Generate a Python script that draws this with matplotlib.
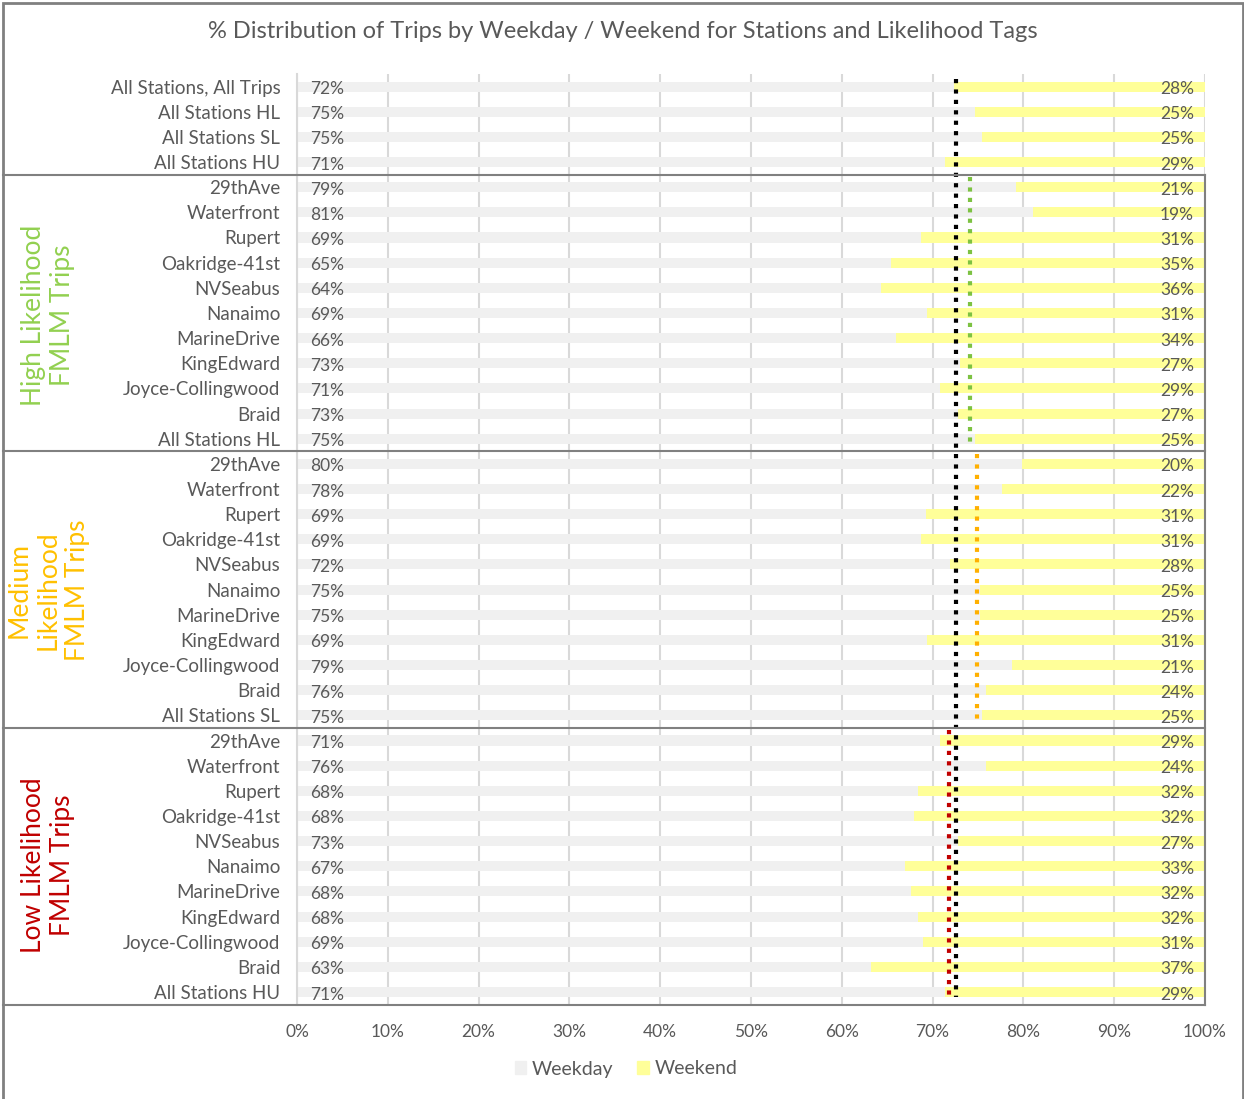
#% weekday/weekend trips chart
import numpy as np
import matplotlib.pyplot as plt
import matplotlib.transforms as mtrans
from matplotlib.patches import Patch, Rectangle
from matplotlib.lines import Line2D

plt.rcParams['font.family'] = ['Lato', 'DejaVu Sans']

stations = ['29thAve', 'Waterfront', 'Rupert', 'Oakridge-41st', 'NVSeabus', 'Nanaimo',
            'MarineDrive', 'KingEdward', 'Joyce-Collingwood', 'Braid']
top_labels = ['All Stations, All Trips', 'All Stations HL', 'All Stations SL', 'All Stations HU']

top_weekday = [72.4, 74.7, 75.4, 71.4]
hl_weekday = [79.2, 81.1, 68.7, 65.4, 64.3, 69.4, 66.0, 73.0, 70.8, 72.8, 74.7]
sl_weekday = [79.8, 77.6, 69.3, 68.7, 71.9, 75.2, 75.2, 69.4, 78.7, 75.9, 75.4]
hu_weekday = [70.8, 75.9, 68.4, 68.0, 72.8, 67.0, 67.6, 68.4, 68.9, 63.2, 71.4]

# reference lines (average weekday share)
avg_all = 72.6
avg_hl = 74.1
avg_sl = 74.9
avg_hu = 71.8

labels = top_labels + stations + ['All Stations HL'] + stations + ['All Stations SL'] + stations + ['All Stations HU']
weekday = np.array(top_weekday + hl_weekday + sl_weekday + hu_weekday)
weekend = 100 - weekday
y = np.arange(len(labels))

txt = '#595959'
grey_bar = '#f0f0f0'
yellow_bar = '#ffff99'

fig = plt.figure(figsize=(12.44, 10.99), dpi=100)
ax = fig.add_axes([297/1244, 1-1004.6/1099, 908/1244, 930.6/1099])

ax.barh(y, weekday, height=0.4, color=grey_bar, label='Weekday', zorder=2)
ax.barh(y, weekend, left=weekday, height=0.4, color=yellow_bar, label='Weekend', zorder=2)

for i in range(len(y)):
    ax.text(1.4, y[i]+0.1, '%d%%' % round(weekday[i]), ha='left', va='center', fontsize=12.5, color=txt, zorder=4)
    ax.text(98.8, y[i]+0.1, '%d%%' % round(weekend[i]), ha='right', va='center', fontsize=12.5, color=txt, zorder=4)

# dotted average lines
dots = (0, (1, 1.5))
ax.plot([avg_all, avg_all], [-0.3, 36.2], color='black', lw=3, ls=dots, zorder=5)
ax.plot([avg_hl, avg_hl], [3.6, 14.2], color='#7dc242', lw=3, ls=dots, zorder=5)
ax.plot([avg_sl, avg_sl], [14.6, 25.2], color='#ffb000', lw=3, ls=dots, zorder=5)
ax.plot([avg_hu, avg_hu], [25.6, 36.2], color='#c00000', lw=3, ls=dots, zorder=5)

ax.set_xlim(0, 100)
ax.set_ylim(36.5, -0.5)
ax.set_xticks(np.arange(0, 101, 10))
ax.set_xticklabels(['%d%%' % v for v in range(0, 101, 10)], fontsize=12.5, color=txt)
ax.set_yticks(y)
ax.set_yticklabels(labels, fontsize=13.5, color=txt)
ax.tick_params(axis='y', length=0, pad=12)
ax.tick_params(axis='x', length=0, pad=14)
ax.grid(axis='x', color='#d9d9d9', lw=1.5, zorder=0)
for s in ['top', 'right', 'bottom']:
    ax.spines[s].set_visible(False)
ax.spines['left'].set_color('#d9d9d9')
ax.spines['left'].set_linewidth(1.5)

# group boxes
tr = mtrans.blended_transform_factory(fig.transFigure, ax.transData)
x0 = 3/1244
x1 = 1205/1244
for b in [3.5, 14.5, 25.5, 36.5]:
    fig.add_artist(Line2D([x0, x1], [b, b], transform=tr, color='#808080', lw=1.5))
fig.add_artist(Line2D([x1, x1], [3.5, 36.5], transform=tr, color='#808080', lw=1.5))

# outer border
fig.add_artist(Rectangle((3/1244, -0.01), 1240/1244, 1.01-3/1099, transform=fig.transFigure,
                         fill=False, edgecolor='#808080', lw=2))

# group titles
fig.text(48/1244, 1-315/1099, 'High Likelihood\nFMLM Trips', rotation=90, ha='center', va='center',
         fontsize=19, color='#92d050', linespacing=1.2)
fig.text(48/1244, 1-590/1099, 'Medium\nLikelihood\nFMLM Trips', rotation=90, ha='center', va='center',
         fontsize=19, color='#ffc000', linespacing=1.2)
fig.text(48/1244, 1-865/1099, 'Low Likelihood\nFMLM Trips', rotation=90, ha='center', va='center',
         fontsize=19, color='#c00000', linespacing=1.2)

fig.text(623/1244, 1-31/1099, '% Distribution of Trips by Weekday / Weekend for Stations and Likelihood Tags',
         ha='center', va='center', fontsize=17, color=txt)

handles = [Patch(color=grey_bar, label='Weekday'), Patch(color=yellow_bar, label='Weekend')]
fig.legend(handles=handles, loc='center', bbox_to_anchor=(626/1244, 1-1069/1099), ncol=2, frameon=False,
           fontsize=14, labelcolor=txt, handlelength=0.6, handleheight=0.6, handletextpad=0.3, columnspacing=1.2)

plt.savefig('out.png', dpi=100)
